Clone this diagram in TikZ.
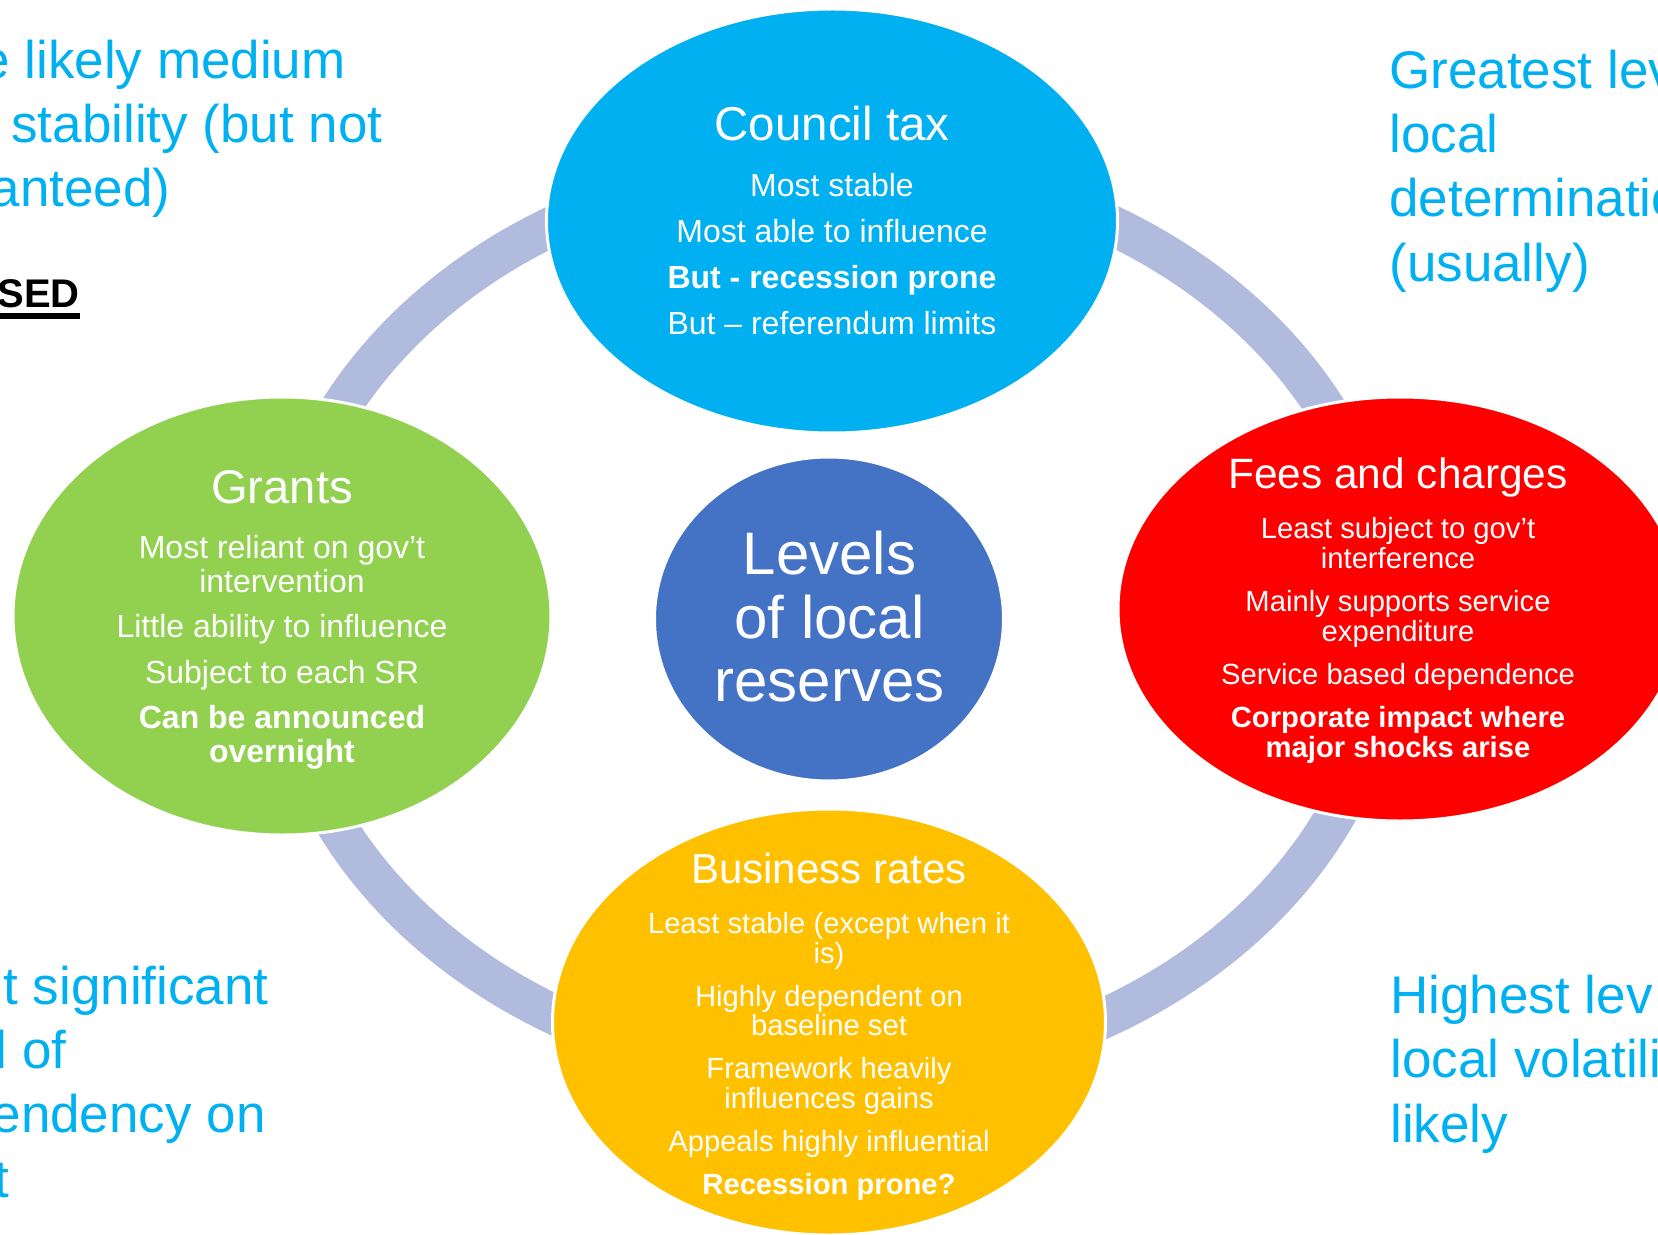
\documentclass[tikz,border=0pt]{standalone}
\usepackage{fontspec}
\setmainfont{Liberation Sans}
\usetikzlibrary{shapes.geometric}
\definecolor{skyblue}{HTML}{00B0F0}
\definecolor{grantgreen}{HTML}{92D050}
\definecolor{feered}{HTML}{FF0000}
\definecolor{rateyellow}{HTML}{FFC000}
\definecolor{corblue}{HTML}{4472C4}
\definecolor{ringblue}{HTML}{B0BBDD}
\begin{document}
\begin{tikzpicture}[x=0.5pt, y=-0.5pt,
		blob/.style={ellipse, draw=white, line width=1.5pt, inner sep=0pt},
		head/.style={text=white, anchor=base, inner sep=0pt},
		body/.style={text=white, align=center, anchor=north, inner sep=0pt},
		side/.style={text=skyblue, inner sep=0pt, font=\fontsize{26.5}{32}\selectfont}]
	\useasboundingbox (0,0) rectangle (1658,1235);
	\clip (0,0) rectangle (1658,1235);
	
	\draw[ringblue, line width=20pt] (833,620) ellipse [x radius=556, y radius=456];
	
	\node[blob, fill=skyblue, minimum width=285.5pt, minimum height=212pt] (tax) at (832,221) {};
	\node[blob, fill=grantgreen, minimum width=269pt, minimum height=219pt] (grants) at (282,616) {};
	\node[blob, fill=feered, minimum width=282pt, minimum height=212pt] (fees) at (1400,609) {};
	\node[blob, fill=rateyellow, minimum width=276.5pt, minimum height=213pt] (rates) at (829,1022) {};
	\node[blob, fill=corblue, minimum width=174.5pt, minimum height=162pt] (levels) at (829,619) {};
	
	\node[head, font=\fontsize{23.75}{28}\selectfont] (tax-title) at (832,141) {Council tax};
	\node[body, font=\fontsize{16}{23}\selectfont] (tax-text) at (832,173) {Most stable\\Most able to influence\\\textbf{But - recession prone}\\But – referendum limits};
	
	\node[head, font=\fontsize{23.6}{28}\selectfont] (grants-title) at (282,503) {Grants};
	\node[body, font=\fontsize{16}{16.75}\selectfont] (grants-text) at (282,535) {Most reliant on gov’t\\intervention\\[6pt]Little ability to influence\\[6pt]Subject to each SR\\[6pt]\textbf{Can be announced}\\\textbf{overnight}};
	
	\node[head, font=\fontsize{21.2}{26}\selectfont] (fees-title) at (1398,488) {Fees and charges};
	\node[body, font=\fontsize{14.6}{15}\selectfont] (fees-text) at (1398,517) {Least subject to gov’t\\interference\\[6.5pt]Mainly supports service\\expenditure\\[6.5pt]Service based dependence\\[6.25pt]\textbf{Corporate impact where}\\\textbf{major shocks arise}};
	
	\node[head, font=\fontsize{21}{25}\selectfont] (rates-title) at (829,883) {Business rates};
	\node[body, font=\fontsize{14.6}{14.75}\selectfont] (rates-text) at (829,912) {Least stable (except when it\\is)\\[6.75pt]Highly dependent on\\baseline set\\[6.75pt]Framework heavily\\influences gains\\[6.75pt]Appeals highly influential\\[6.75pt]\textbf{Recession prone?}};
	
	\node[body, font=\fontsize{30}{31.75}\selectfont] (levels-text) at (829.5,531) {Levels\\of local\\reserves};
	
	\node[side, anchor=base east] (stab-a) at (346,79) {e likely medium};
	\node[side, anchor=base east] (stab-b) at (383,143) {stability (but not};
	\node[side, anchor=base east] (stab-c) at (171,207) {anteed)};
	
	\node[inner sep=0pt, anchor=base east, font=\fontsize{20}{24}\selectfont\bfseries] (sed) at (80,308) {SED};
	\draw[line width=3pt] ([yshift=-4pt]sed.base west) -- ([yshift=-4pt]sed.base east);
	
	\node[side, anchor=base west] (great-a) at (1389,89) {Greatest lev};
	\node[side, anchor=base west] (great-b) at (1389,153) {local};
	\node[side, anchor=base west] (great-c) at (1389,217) {determinatio};
	\node[side, anchor=base west] (great-d) at (1389,282) {(usually)};
	
	\node[side, anchor=base east] (dep-a) at (269,1004) {t significant};
	\node[side, anchor=base east] (dep-b) at (67,1068) {l of};
	\node[side, anchor=base east] (dep-c) at (266,1132) {endency on};
	\node[side, anchor=base east] (dep-d) at (10,1197) {t};
	
	\node[side, anchor=base west] (vol-a) at (1390,1013) {Highest lev};
	\node[side, anchor=base west] (vol-b) at (1390,1077) {local volatili};
	\node[side, anchor=base west] (vol-c) at (1390,1142) {likely};
\end{tikzpicture}
\end{document}
